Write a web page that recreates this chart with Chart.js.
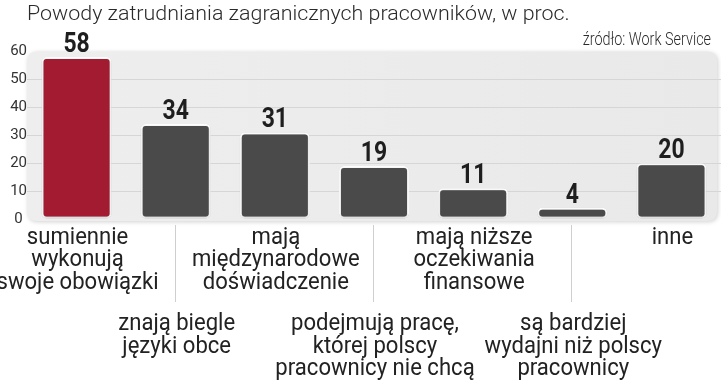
<!DOCTYPE html>
<html>
<head>
<meta charset="utf-8">
<script src="https://cdn.jsdelivr.net/npm/chart.js@4/dist/chart.umd.min.js"></script>
<style>
  html, body { margin: 0; padding: 0; background: #ffffff; }
  #wrap { width: 721px; height: 382px; position: relative; }
</style>
</head>
<body>
<div id="wrap"><canvas id="c" width="721" height="382"></canvas></div>
<script>
// ---- data ----
const titleText = 'Powody zatrudniania zagranicznych pracowników, w proc.';
const sourceText = 'źródło: Work Service';
const categories = [
  ['sumiennie', 'wykonują', 'swoje obowiązki'],
  ['znają biegle', 'języki obce'],
  ['mają', 'międzynarodowe', 'doświadczenie'],
  ['podejmują pracę,', 'której polscy', 'pracownicy nie chcą'],
  ['mają niższe', 'oczekiwania', 'finansowe'],
  ['są bardziej', 'wydajni niż polscy', 'pracownicy'],
  ['inne']
];
const values = [58, 34, 31, 19, 11, 4, 20];
const yTicks = [0, 10, 20, 30, 40, 50, 60];
const highlightIndex = 0;

// ---- helpers ----
function drawText(ctx, text, x, y, font, color, align, scaleX) {
  ctx.save();
  ctx.font = font;
  ctx.fillStyle = color;
  ctx.textBaseline = 'alphabetic';
  ctx.textAlign = align;
  ctx.translate(x, y);
  ctx.scale(scaleX, 1);
  ctx.fillText(text, 0, 0);
  ctx.restore();
}
function roundRect(ctx, x, y, w, h, r) {
  ctx.beginPath();
  ctx.moveTo(x + r, y);
  ctx.lineTo(x + w - r, y);
  ctx.quadraticCurveTo(x + w, y, x + w, y + r);
  ctx.lineTo(x + w, y + h - r);
  ctx.quadraticCurveTo(x + w, y + h, x + w - r, y + h);
  ctx.lineTo(x + r, y + h);
  ctx.quadraticCurveTo(x, y + h, x, y + h - r);
  ctx.lineTo(x, y + r);
  ctx.quadraticCurveTo(x, y, x + r, y);
  ctx.closePath();
}

const decor = {
  id: 'decor',
  beforeDraw(chart) {
    const ctx = chart.ctx, a = chart.chartArea;
    ctx.save();
    ctx.shadowColor = 'rgba(0,0,0,0.18)';
    ctx.shadowBlur = 4;
    ctx.shadowOffsetX = 1;
    ctx.shadowOffsetY = 1;
    const g = ctx.createLinearGradient(a.left, 0, chart.width, 0);
    g.addColorStop(0, '#eeeeee');
    g.addColorStop(1, '#e9e9e9');
    ctx.fillStyle = g;
    roundRect(ctx, a.left, a.top, chart.width - 4 - a.left, a.bottom - a.top + 2, 10);
    ctx.fill();
    ctx.restore();
  },
  beforeDatasetsDraw(chart) {
    const ctx = chart.ctx;
    ctx.save();
    ctx.shadowColor = 'rgba(0,0,0,0.25)';
    ctx.shadowBlur = 3;
    ctx.shadowOffsetX = 0;
    ctx.shadowOffsetY = 1;
  },
  afterDatasetsDraw(chart) {
    const ctx = chart.ctx;
    ctx.restore();
    const meta = chart.getDatasetMeta(0);
    meta.data.forEach((bar, i) => {
      drawText(ctx, String(values[i]), bar.x, bar.y - 5,
        'bold 28px Roboto', '#1e1e1e', 'center', 0.82);
    });
  },
  afterDraw(chart) {
    const ctx = chart.ctx;
    const xs = chart.scales.x;
    // title + source
    drawText(ctx, titleText, 27, 19.5, '300 21px Roboto', '#2a2a2a', 'left', 1.02);
    drawText(ctx, sourceText, 711, 44.5, '300 18px Roboto', '#2a2a2a', 'right', 0.8);
    // category labels (staggered)
    categories.forEach((lines, i) => {
      const cx = xs.getPixelForValue(i);
      const upper = i % 2 === 0;
      const base = upper ? 243.5 : 330;
      lines.forEach((ln, k) => {
        drawText(ctx, ln, cx + 1, base + k * 22.5, '24px Roboto', '#222222', 'center', 0.92);
      });
      if (!upper) {
        ctx.save();
        ctx.strokeStyle = '#cfcfcf';
        ctx.lineWidth = 1;
        ctx.beginPath();
        ctx.moveTo(Math.round(cx) - 0.5, 225);
        ctx.lineTo(Math.round(cx) - 0.5, 302);
        ctx.stroke();
        ctx.restore();
      }
    });
  }
};

new Chart(document.getElementById('c'), {
  type: 'bar',
  data: {
    labels: categories,
    datasets: [{
      data: values,
      backgroundColor: (c) => c.dataIndex === highlightIndex ? '#a31b31' : '#4a4a4a',
      borderColor: '#ffffff',
      borderWidth: 2,
      borderRadius: 5,
      borderSkipped: false,
      barPercentage: 0.706,
      categoryPercentage: 1.0
    }]
  },
  options: {
    responsive: false,
    animation: false,
    events: [],
    layout: { padding: { left: 0, right: 0, top: 51.5, bottom: 163 } },
    plugins: { legend: { display: false }, tooltip: { enabled: false }, title: { display: false } },
    scales: {
      x: {
        display: false,
        grid: { display: false }
      },
      y: {
        min: 0, max: 60,
        afterBuildTicks: (s) => { s.ticks = yTicks.map(v => ({ value: v })); },
        afterFit: (s) => { s.width = 27; },
        border: { display: false },
        grid: {
          drawTicks: false,
          color: (c) => (c.tick && (c.tick.value === 0 || c.tick.value === 60)) ? 'rgba(0,0,0,0)' : '#d6d6d6',
          lineWidth: 1
        },
        ticks: {
          crossAlign: 'center',
          padding: 0,
          color: '#333333',
          font: { family: 'Roboto', size: 15 },
          callback: (v) => String(v)
        }
      }
    }
  },
  plugins: [decor]
});
</script>
</body>
</html>
